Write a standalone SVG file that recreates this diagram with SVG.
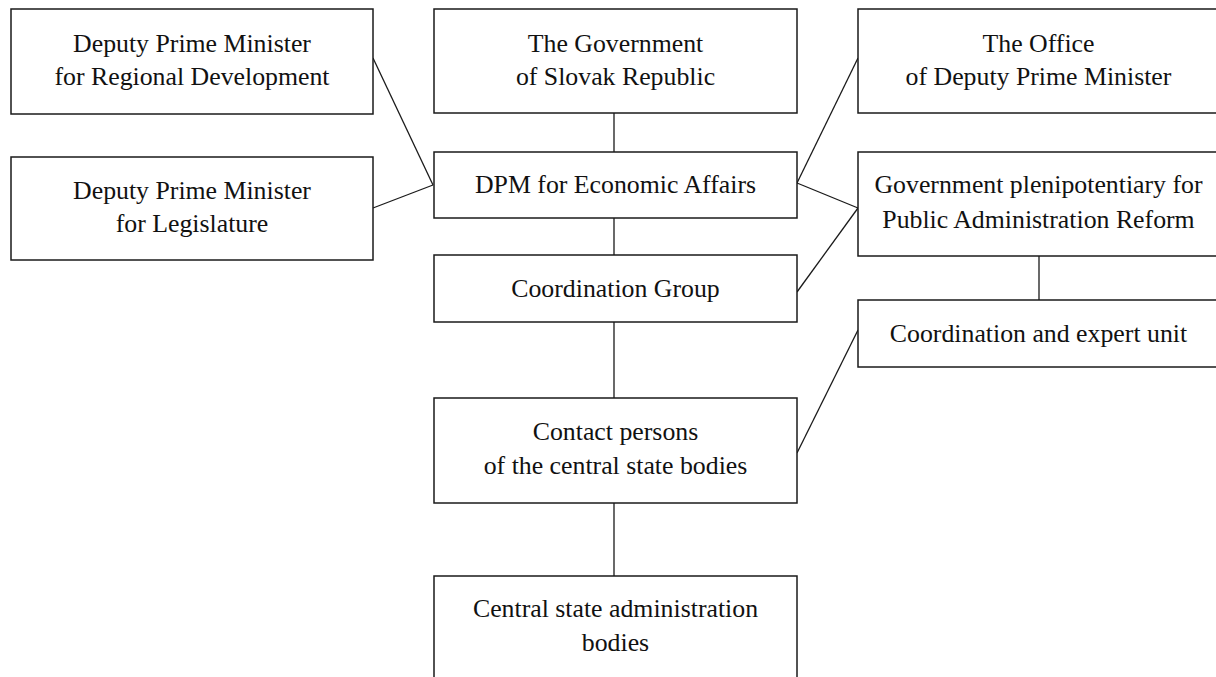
<svg xmlns="http://www.w3.org/2000/svg" width="1216" height="677" viewBox="0 0 1216 677">
<style>
.box{fill:#fff;stroke:#1a1a1a;stroke-width:1.5}
.t{font-family:"Liberation Serif","Times New Roman",serif;font-size:25.8px;fill:#111;text-anchor:middle}
.c{stroke:#1a1a1a;stroke-width:1.3;fill:none}
</style>
<rect width="1216" height="677" fill="#fff"/>
<g id="connectors">
<line class="c" x1="373" y1="58" x2="433" y2="185"/>
<line class="c" x1="373" y1="208" x2="433" y2="185"/>
<line class="c" x1="614" y1="113" x2="614" y2="152"/>
<line class="c" x1="614" y1="218" x2="614" y2="255"/>
<line class="c" x1="797" y1="183" x2="858" y2="58"/>
<line class="c" x1="797" y1="183" x2="858" y2="208"/>
<line class="c" x1="797" y1="292" x2="858" y2="208"/>
<line class="c" x1="1039" y1="256" x2="1039" y2="300"/>
<line class="c" x1="797" y1="453" x2="858" y2="330"/>
<line class="c" x1="614" y1="322" x2="614" y2="398"/>
<line class="c" x1="614" y1="503" x2="614" y2="576"/>
</g>
<g id="dpm-regional">
<rect class="box" x="11" y="9" width="362" height="105"/>
<text class="t" x="192" y="52">Deputy Prime Minister</text>
<text class="t" x="192" y="85">for Regional Development</text>
</g>
<g id="dpm-legislature">
<rect class="box" x="11" y="157" width="362" height="103"/>
<text class="t" x="192" y="199">Deputy Prime Minister</text>
<text class="t" x="192" y="232">for Legislature</text>
</g>
<g id="government">
<rect class="box" x="434" y="9" width="363" height="104"/>
<text class="t" x="615.5" y="52">The Government</text>
<text class="t" x="615.5" y="85">of Slovak Republic</text>
</g>
<g id="dpm-economic">
<rect class="box" x="434" y="152" width="363" height="66"/>
<text class="t" x="615.5" y="193">DPM for Economic Affairs</text>
</g>
<g id="coordination-group">
<rect class="box" x="434" y="255" width="363" height="67"/>
<text class="t" x="615.5" y="297">Coordination Group</text>
</g>
<g id="contact-persons">
<rect class="box" x="434" y="398" width="363" height="105"/>
<text class="t" x="615.5" y="440">Contact persons</text>
<text class="t" x="615.5" y="474">of the central state bodies</text>
</g>
<g id="central-bodies">
<rect class="box" x="434" y="576" width="363" height="120"/>
<text class="t" x="615.5" y="617">Central state administration</text>
<text class="t" x="615.5" y="651">bodies</text>
</g>
<g id="office-dpm">
<rect class="box" x="858" y="9" width="362" height="104"/>
<text class="t" x="1038.5" y="52">The Office</text>
<text class="t" x="1038.5" y="85">of Deputy Prime Minister</text>
</g>
<g id="plenipotentiary">
<rect class="box" x="858" y="152" width="362" height="104"/>
<text class="t" x="1038.5" y="193">Government plenipotentiary for</text>
<text class="t" x="1038.5" y="228">Public Administration Reform</text>
</g>
<g id="expert-unit">
<rect class="box" x="858" y="300" width="362" height="67"/>
<text class="t" x="1038.5" y="342">Coordination and expert unit</text>
</g>
</svg>
